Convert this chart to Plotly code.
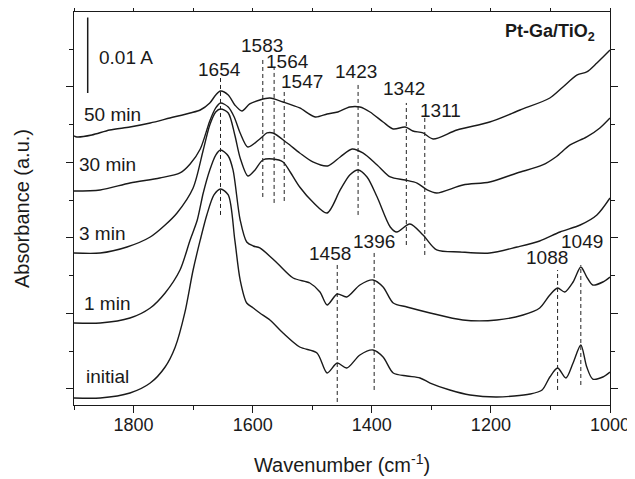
import plotly.graph_objects as go

# ---------------- data ----------------
wn_initial = [1900, 1856, 1806, 1772, 1747, 1730, 1714, 1700, 1688, 1677, 1665, 1654, 1641, 1630, 1621,
              1610, 1599, 1588, 1571, 1549, 1521, 1492, 1475, 1458, 1442, 1420, 1398, 1381, 1364, 1341,
              1319, 1302, 1269, 1235, 1190, 1134, 1114, 1101, 1088, 1074, 1062, 1049, 1039, 1029, 1012, 1000]
ab_initial = [0.881, 0.881, 0.947, 1.079, 1.291, 1.556, 2.007, 2.576, 2.974, 3.305, 3.570, 3.649, 3.570, 2.974, 2.444,
              2.139, 2.073, 2.007, 1.914, 1.742, 1.556, 1.477, 1.212, 1.344, 1.278, 1.450, 1.517, 1.424, 1.212, 1.172,
              1.146, 1.079, 0.987, 0.921, 0.894, 0.934, 0.987, 1.159, 1.278, 1.146, 1.344, 1.583, 1.291, 1.132, 1.159, 1.225]

wn_1min = [1900, 1856, 1806, 1772, 1747, 1722, 1705, 1693, 1683, 1672, 1662, 1654, 1641, 1633, 1621,
           1610, 1599, 1588, 1559, 1532, 1504, 1487, 1475, 1458, 1442, 1420, 1398, 1381, 1364, 1341,
           1302, 1247, 1190, 1146, 1118, 1101, 1088, 1076, 1062, 1049, 1039, 1029, 1012, 1000]
ab_1min = [1.874, 1.874, 1.940, 2.073, 2.272, 2.576, 2.974, 3.238, 3.596, 3.901, 4.099, 4.166, 4.086, 3.901, 3.238,
           2.947, 2.894, 2.868, 2.669, 2.470, 2.404, 2.285, 2.113, 2.258, 2.219, 2.377, 2.444, 2.351, 2.139, 2.086,
           2.007, 1.914, 1.914, 1.980, 2.073, 2.245, 2.338, 2.285, 2.417, 2.616, 2.483, 2.377, 2.417, 2.483]

wn_3min = [1900, 1856, 1811, 1772, 1747, 1727, 1700, 1683, 1672, 1662, 1654, 1641, 1630, 1621, 1608,
           1596, 1583, 1566, 1549, 1537, 1521, 1499, 1475, 1453, 1437, 1423, 1408, 1391, 1369, 1358,
           1336, 1314, 1291, 1252, 1202, 1156, 1118, 1084, 1050, 1022, 1000]
ab_3min = [2.801, 2.801, 2.881, 3.013, 3.172, 3.331, 3.662, 4.166, 4.497, 4.669, 4.709, 4.656, 4.364, 4.060, 3.821,
           3.901, 4.033, 4.046, 4.007, 3.874, 3.675, 3.477, 3.331, 3.636, 3.834, 3.901, 3.808, 3.543, 3.146, 3.079,
           3.185, 3.040, 2.841, 2.815, 2.801, 2.881, 2.960, 3.079, 3.172, 3.305, 3.530]

wn_30min = [1900, 1856, 1806, 1756, 1722, 1705, 1688, 1672, 1662, 1654, 1641, 1631, 1621, 1608, 1588,
            1576, 1566, 1542, 1521, 1499, 1474, 1453, 1433, 1415, 1391, 1369, 1344, 1324, 1307, 1291,
            1247, 1202, 1156, 1113, 1091, 1067, 1039, 1017, 1000]
ab_30min = [3.623, 3.636, 3.728, 3.795, 3.861, 3.980, 4.179, 4.550, 4.722, 4.788, 4.735, 4.603, 4.391, 4.205, 4.311,
            4.391, 4.391, 4.258, 4.126, 4.007, 3.954, 4.073, 4.179, 4.126, 3.967, 3.808, 3.768, 3.728, 3.636, 3.596,
            3.702, 3.742, 3.861, 3.967, 4.073, 4.232, 4.338, 4.457, 4.589]

wn_50min = [1900, 1895, 1870, 1840, 1806, 1772, 1739, 1705, 1688, 1672, 1662, 1654, 1641, 1630, 1618,
            1605, 1588, 1571, 1549, 1521, 1495, 1475, 1457, 1437, 1420, 1403, 1381, 1364, 1344, 1331,
            1314, 1297, 1257, 1202, 1151, 1101, 1079, 1055, 1039, 1022, 1000]
ab_50min = [4.351, 4.338, 4.364, 4.430, 4.470, 4.523, 4.589, 4.656, 4.695, 4.788, 4.894, 4.947, 4.894, 4.762, 4.682,
            4.775, 4.828, 4.854, 4.801, 4.722, 4.603, 4.642, 4.669, 4.735, 4.735, 4.669, 4.536, 4.444, 4.470, 4.417,
            4.391, 4.311, 4.430, 4.536, 4.695, 4.854, 5.000, 5.159, 5.199, 5.318, 5.490]

series_names = ["initial", "1 min", "3 min", "30 min", "50 min"]

peak_wn = [1654, 1583, 1564, 1547, 1423, 1342, 1311, 1458, 1396, 1088, 1049]
peak_text = ["1654", "1583", "1564", "1547", "1423", "1342", "1311", "1458", "1396", "1088", "1049"]

x_tick_vals = [1800, 1600, 1400, 1200, 1000]
x_tick_text = ["1800", "1600", "1400", "1200", "1000"]

# ---------------- layout helpers (positions / styles) ----------------
peak_line_span = [(3.305, 5.119), (3.543, 5.358), (3.464, 5.265), (3.490, 4.960), (3.305, 5.066),
                  (2.907, 4.788), (2.775, 4.603), (0.828, 2.669), (0.987, 2.815), (0.987, 2.576), (1.053, 2.642)]
peak_label_pos = [(1655, 5.225), (1584, 5.556), (1541, 5.331), (1517, 5.079), (1427, 5.199),
                  (1346, 4.974), (1285, 4.695), (1470, 2.801), (1396, 2.947), (1106, 2.735), (1047, 2.960)]
name_label_pos = [(1884, 1.159), (1886, 2.126), (1895, 3.066), (1895, 3.967), (1887, 4.642)]

FONT = "Liberation Sans, Arial, sans-serif"
INK = "#1a1a1a"

fig = go.Figure()
for wn, ab, nm in [(wn_initial, ab_initial, series_names[0]), (wn_1min, ab_1min, series_names[1]),
                   (wn_3min, ab_3min, series_names[2]), (wn_30min, ab_30min, series_names[3]),
                   (wn_50min, ab_50min, series_names[4])]:
    fig.add_trace(go.Scatter(x=wn, y=ab, mode="lines", name=nm,
                             line=dict(color=INK, width=1.4, shape="spline", smoothing=0.8),
                             showlegend=False, hoverinfo="skip"))

shapes = []
for w, (y0, y1) in zip(peak_wn, peak_line_span):
    shapes.append(dict(type="line", xref="x", yref="y", x0=w, x1=w, y0=y0, y1=y1,
                       line=dict(color="#222", width=1, dash="4px,3px")))
# scale bar 0.01 A
shapes.append(dict(type="line", xref="x", yref="y", x0=1877, x1=1877, y0=4.92, y1=5.92,
                   line=dict(color=INK, width=1.5)))

annotations = []
for t, (x, y) in zip(peak_text, peak_label_pos):
    annotations.append(dict(x=x, y=y, xref="x", yref="y", text=t, showarrow=False,
                            xanchor="center", yanchor="middle",
                            font=dict(family=FONT, size=19, color=INK)))
for t, (x, y) in zip(series_names, name_label_pos):
    annotations.append(dict(x=x, y=y, xref="x", yref="y", text=t, showarrow=False,
                            xanchor="left", yanchor="middle",
                            font=dict(family=FONT, size=19, color=INK)))
annotations.append(dict(x=1861, y=5.384, xref="x", yref="y", text="0.01 A", showarrow=False,
                        xanchor="left", yanchor="middle", font=dict(family=FONT, size=19, color=INK)))
annotations.append(dict(x=1022, y=5.72, xref="x", yref="y", text="<b>Pt-Ga/TiO<sub>2</sub></b>",
                        showarrow=False, xanchor="right", yanchor="middle",
                        font=dict(family=FONT, size=18, color=INK)))

fig.update_layout(
    width=635, height=479,
    margin=dict(l=66, r=33, t=4, b=82, autoexpand=False),
    paper_bgcolor="white", plot_bgcolor="white",
    shapes=shapes, annotations=annotations,
    font=dict(family=FONT, color=INK),
    xaxis=dict(range=[1900, 1000], tickvals=x_tick_vals, ticktext=x_tick_text, automargin=False,
               ticks="outside", ticklen=7, tickwidth=1, tickcolor=INK, ticklabelstandoff=-4,
               minor=dict(dtick=100, tick0=1000, ticks="outside", ticklen=4, tickcolor=INK),
               showline=True, linecolor=INK, linewidth=1.2, mirror="ticks", showgrid=False, zeroline=False,
               tickfont=dict(family=FONT, size=18, color=INK),
               title=dict(text="Wavenumber (cm<sup>-1</sup>)", font=dict(family=FONT, size=20, color=INK), standoff=24)),
    yaxis=dict(range=[0.788, 5.993], tickvals=[1, 2, 3, 4, 5], showticklabels=False, automargin=False,
               ticks="outside", ticklen=7, tickwidth=1, tickcolor=INK,
               minor=dict(dtick=1, tick0=0.5, ticks="outside", ticklen=4, tickcolor=INK),
               showline=True, linecolor=INK, linewidth=1.2, mirror="ticks", showgrid=False, zeroline=False,
               title=dict(text="Absorbance (a.u.)", font=dict(family=FONT, size=20, color=INK), standoff=30)),
)

fig.write_html("out.html")
